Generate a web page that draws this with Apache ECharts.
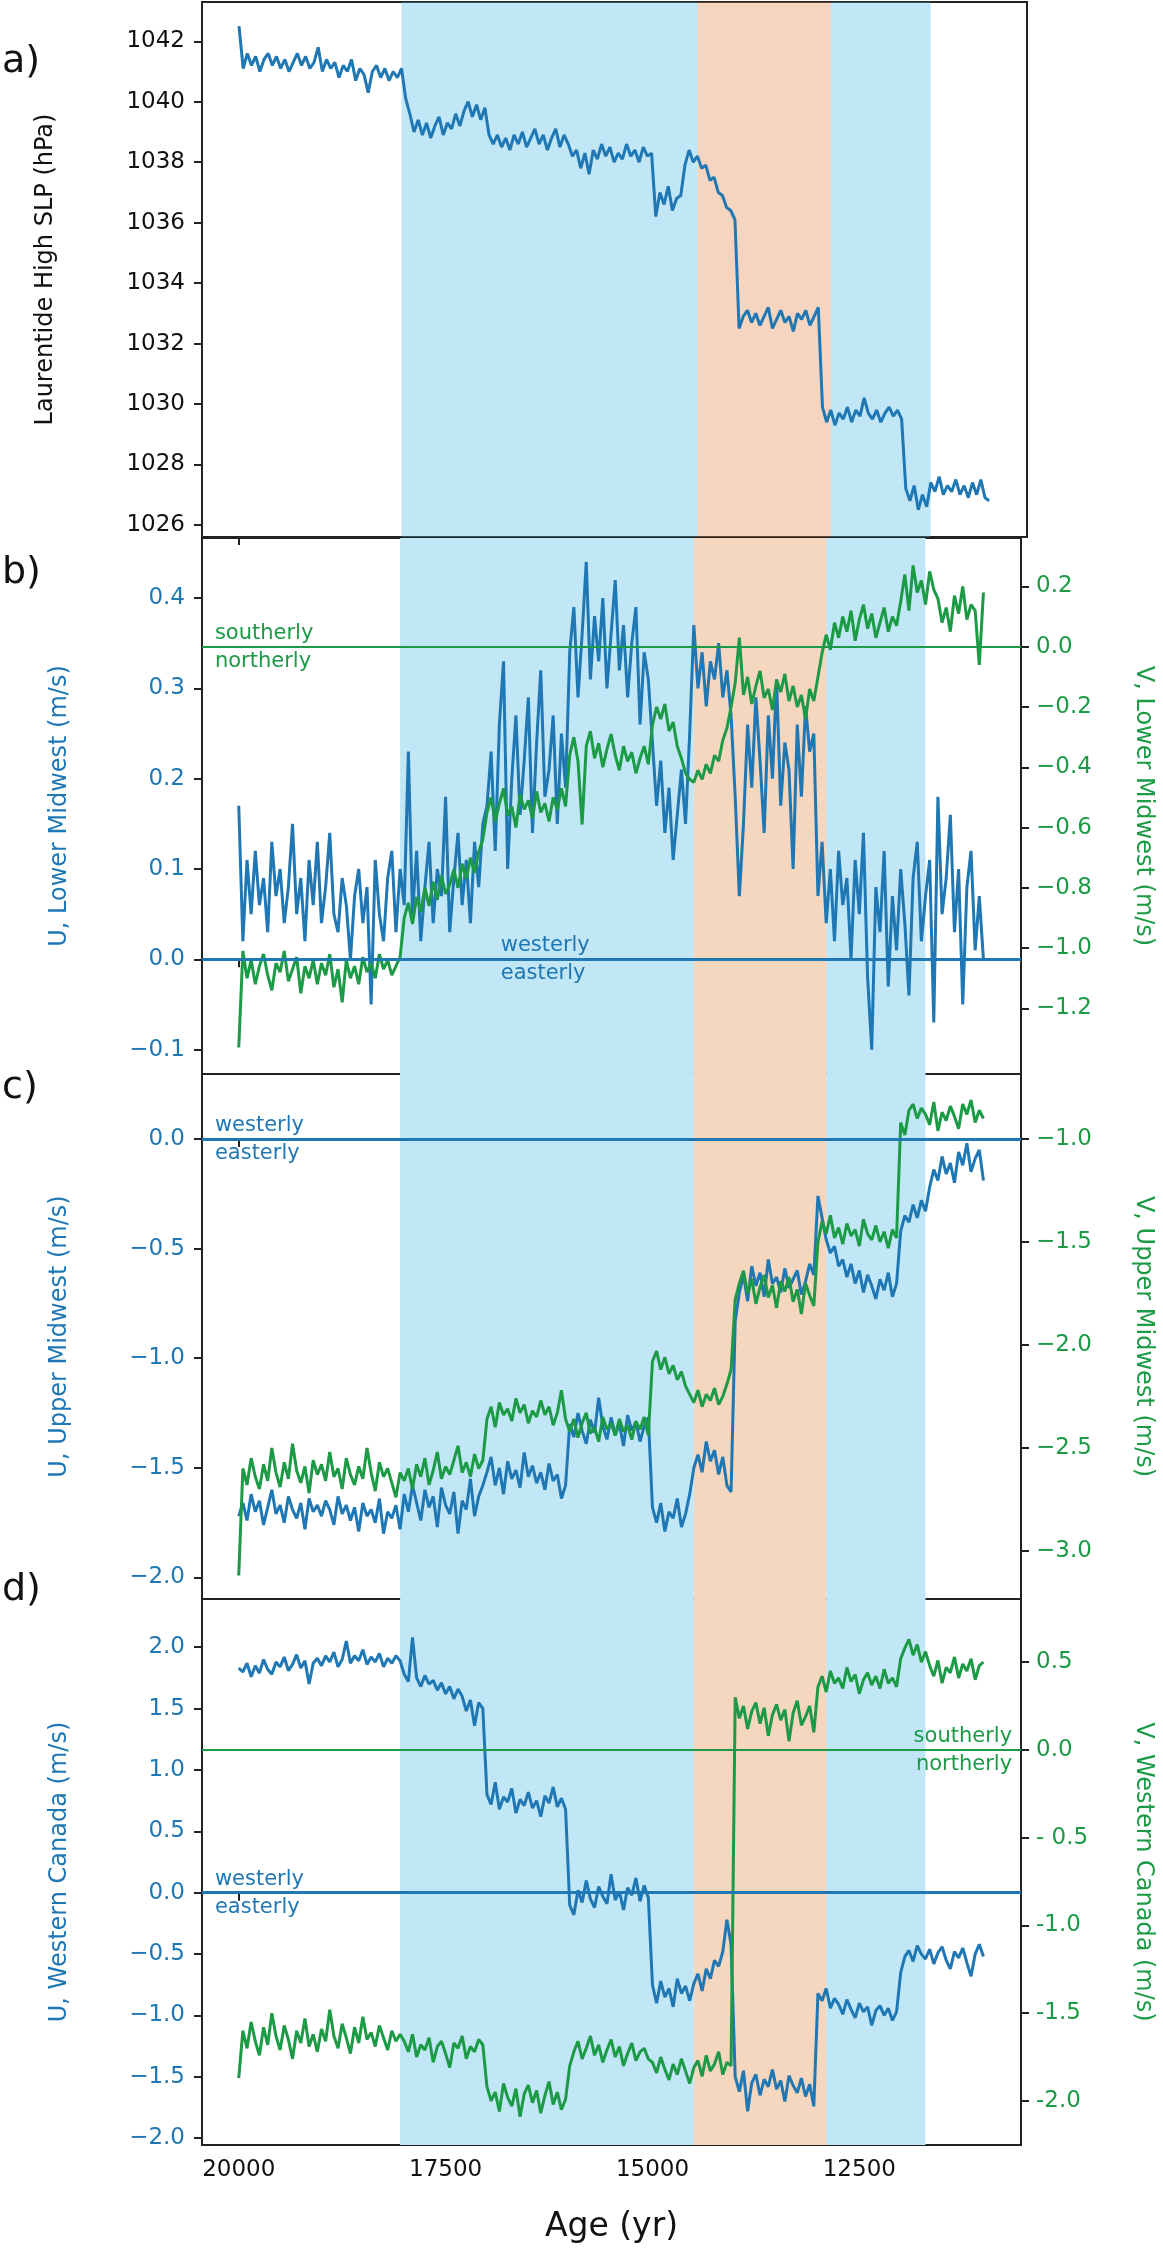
<!DOCTYPE html>
<html>
<head>
<meta charset="utf-8">
<script src="https://cdn.jsdelivr.net/npm/echarts@6/dist/echarts.min.js"></script>
<style>
html, body { margin: 0; padding: 0; background: #fff; }
#chart { width: 1163px; height: 2250px; }
</style>
</head>
<body>
<div id="chart"></div>
<script>
// ages run from 20000 yr down to 11000 yr, one value every 50 yr
var AGE_START = 20000;
var AGE_STEP = 50;

// a) Laurentide High SLP (hPa)
var slpLaurentide = [
	1042.5, 1041.1, 1041.6, 1041.2, 1041.5, 1041.0, 1041.4, 1041.6, 1041.2, 1041.5, 1041.1, 1041.4, 1041.0, 1041.3, 1041.6, 1041.2, 1041.5, 1041.1, 1041.3, 1041.8,
	1041.0, 1041.4, 1041.1, 1041.3, 1040.8, 1041.2, 1041.0, 1041.4, 1040.7, 1041.1, 1040.9, 1040.3, 1041.0, 1041.2, 1040.8, 1041.1, 1040.7, 1041.0, 1040.8, 1041.1,
	1040.1, 1039.6, 1039.0, 1039.4, 1038.9, 1039.3, 1038.8, 1039.2, 1039.5, 1038.9, 1039.3, 1039.1, 1039.6, 1039.2, 1039.7, 1040.0, 1039.5, 1039.9, 1039.4, 1039.8,
	1038.9, 1038.6, 1038.9, 1038.5, 1038.8, 1038.4, 1038.9, 1038.6, 1039.0, 1038.5, 1038.8, 1039.1, 1038.6, 1038.9, 1038.4, 1038.8, 1039.1, 1038.5, 1038.9, 1038.6,
	1038.2, 1038.4, 1037.8, 1038.3, 1037.6, 1038.4, 1038.1, 1038.6, 1038.2, 1038.5, 1038.0, 1038.3, 1038.1, 1038.6, 1038.2, 1038.4, 1038.0, 1038.5, 1038.2, 1038.3,
	1036.2, 1037.0, 1036.6, 1037.2, 1036.4, 1036.8, 1036.9, 1037.9, 1038.4, 1038.0, 1038.2, 1037.8, 1037.9, 1037.4, 1037.5, 1037.0, 1036.9, 1036.5, 1036.4, 1036.1,
	1032.5, 1032.9, 1033.1, 1032.7, 1033.0, 1032.6, 1032.9, 1033.2, 1032.5, 1032.8, 1033.1, 1032.7, 1032.9, 1032.4, 1033.0, 1032.8, 1033.1, 1032.6, 1032.9, 1033.2,
	1029.9, 1029.4, 1029.8, 1029.3, 1029.7, 1029.5, 1029.9, 1029.4, 1029.8, 1029.6, 1030.2, 1029.7, 1029.5, 1029.8, 1029.4, 1029.7, 1029.9, 1029.6, 1029.8, 1029.5,
	1027.2, 1026.8, 1027.3, 1026.5, 1027.0, 1026.6, 1027.4, 1027.1, 1027.6, 1027.0, 1027.3, 1027.1, 1027.5, 1027.0, 1027.3, 1026.9, 1027.4, 1027.0, 1027.5, 1026.9, 1026.8
];

// b) Lower Midwest winds (m/s)
var uLowerMidwest = [
	0.17, 0.02, 0.11, 0.05, 0.12, 0.06, 0.09, 0.03, 0.13, 0.07, 0.10, 0.04, 0.08, 0.15, 0.05, 0.09, 0.02, 0.11, 0.06, 0.13,
	0.04, 0.08, 0.14, 0.05, 0.03, 0.09, 0.06, 0.00, 0.07, 0.10, 0.04, 0.08, -0.05, 0.11, 0.05, 0.02, 0.09, 0.12, 0.03, 0.10,
	0.06, 0.23, 0.05, 0.12, 0.02, 0.08, 0.13, 0.04, 0.10, 0.07, 0.18, 0.03, 0.09, 0.14, 0.06, 0.11, 0.04, 0.13, 0.08, 0.15,
	0.17, 0.23, 0.12, 0.26, 0.33, 0.10, 0.20, 0.27, 0.16, 0.22, 0.29, 0.14, 0.24, 0.32, 0.18, 0.21, 0.27, 0.15, 0.25, 0.19,
	0.34, 0.39, 0.29, 0.36, 0.44, 0.31, 0.38, 0.33, 0.40, 0.30, 0.36, 0.42, 0.32, 0.37, 0.29, 0.35, 0.39, 0.26, 0.34, 0.31,
	0.24, 0.17, 0.22, 0.14, 0.19, 0.11, 0.16, 0.21, 0.15, 0.25, 0.37, 0.30, 0.34, 0.28, 0.33, 0.31, 0.35, 0.29, 0.32, 0.27,
	0.18, 0.07, 0.15, 0.26, 0.19, 0.29, 0.22, 0.14, 0.27, 0.20, 0.31, 0.17, 0.24, 0.21, 0.10, 0.26, 0.18, 0.28, 0.23, 0.25,
	0.07, 0.13, 0.04, 0.10, 0.02, 0.12, 0.06, 0.09, 0.00, 0.11, 0.05, 0.14, -0.02, -0.10, 0.08, 0.03, 0.12, -0.03, 0.07, 0.01,
	0.10, 0.04, -0.04, 0.09, 0.13, 0.02, 0.07, 0.11, -0.07, 0.18, 0.05, 0.09, 0.16, 0.03, 0.10, -0.05, 0.08, 0.12, 0.01, 0.07, 0.00
];
var vLowerMidwest = [
	-1.33, -1.01, -1.10, -1.04, -1.12, -1.06, -1.02, -1.09, -1.14, -1.05, -1.08, -1.01, -1.11, -1.07, -1.03, -1.15, -1.06, -1.10, -1.04, -1.12,
	-1.05, -1.09, -1.02, -1.13, -1.07, -1.18, -1.04, -1.10, -1.06, -1.12, -1.03, -1.08, -1.05, -1.10, -1.02, -1.07, -1.04, -1.09, -1.06, -1.03,
	-0.90, -0.85, -0.92, -0.83, -0.88, -0.80, -0.86, -0.78, -0.84, -0.76, -0.82, -0.79, -0.74, -0.80, -0.72, -0.77, -0.70, -0.75, -0.68, -0.64,
	-0.55, -0.50, -0.58, -0.52, -0.47, -0.56, -0.53, -0.60, -0.49, -0.54, -0.51, -0.57, -0.48, -0.55, -0.52, -0.58, -0.50, -0.54, -0.47, -0.53,
	-0.36, -0.30, -0.38, -0.59, -0.33, -0.28, -0.37, -0.32, -0.40, -0.34, -0.29, -0.36, -0.41, -0.33, -0.38, -0.35, -0.42, -0.37, -0.33, -0.39,
	-0.26, -0.20, -0.24, -0.19, -0.28, -0.25, -0.33, -0.37, -0.42, -0.44, -0.45, -0.41, -0.44, -0.39, -0.42, -0.36, -0.38, -0.31, -0.27, -0.20,
	-0.12, 0.03, -0.16, -0.10, -0.19, -0.13, -0.08, -0.17, -0.14, -0.21, -0.11, -0.15, -0.09, -0.18, -0.13, -0.20, -0.16, -0.24, -0.14, -0.18,
	-0.10, -0.02, 0.04, -0.01, 0.08, 0.03, 0.10, 0.05, 0.12, 0.02, 0.09, 0.14, 0.06, 0.11, 0.03, 0.08, 0.13, 0.05, 0.10, 0.07,
	0.15, 0.24, 0.12, 0.27, 0.18, 0.22, 0.14, 0.25, 0.19, 0.16, 0.08, 0.13, 0.05, 0.17, 0.11, 0.20, 0.09, 0.14, 0.12, -0.06, 0.18
];

// c) Upper Midwest winds (m/s)
var uUpperMidwest = [
	-1.72, -1.66, -1.74, -1.62, -1.70, -1.65, -1.76, -1.68, -1.60, -1.71, -1.67, -1.75, -1.63, -1.69, -1.73, -1.66, -1.78, -1.64, -1.70, -1.67,
	-1.72, -1.65, -1.69, -1.76, -1.63, -1.71, -1.67, -1.74, -1.68, -1.79, -1.66, -1.72, -1.69, -1.75, -1.64, -1.80, -1.70, -1.73, -1.67, -1.78,
	-1.62, -1.70, -1.58, -1.66, -1.74, -1.60, -1.68, -1.63, -1.77, -1.59, -1.67, -1.71, -1.61, -1.80, -1.65, -1.69, -1.55, -1.72, -1.63, -1.58,
	-1.52, -1.45, -1.58, -1.50, -1.62, -1.47, -1.55, -1.51, -1.59, -1.43, -1.54, -1.49, -1.57, -1.52, -1.60, -1.48, -1.56, -1.53, -1.64, -1.58,
	-1.30, -1.36, -1.25, -1.33, -1.39, -1.28, -1.34, -1.18, -1.31, -1.37, -1.27, -1.35, -1.30, -1.40, -1.26, -1.33, -1.29, -1.38, -1.31, -1.27,
	-1.68, -1.75, -1.66, -1.79, -1.70, -1.73, -1.64, -1.77, -1.71, -1.62, -1.50, -1.44, -1.52, -1.38, -1.47, -1.42, -1.53, -1.45, -1.58, -1.61,
	-0.83, -0.70, -0.62, -0.74, -0.58, -0.67, -0.61, -0.72, -0.55, -0.66, -0.63, -0.70, -0.59, -0.68, -0.64, -0.60, -0.71, -0.65, -0.57, -0.62,
	-0.26, -0.36, -0.46, -0.52, -0.49, -0.58, -0.55, -0.63, -0.57, -0.66, -0.60, -0.70, -0.62, -0.67, -0.73, -0.64, -0.69, -0.61, -0.72, -0.66,
	-0.42, -0.35, -0.38, -0.30, -0.36, -0.28, -0.33, -0.22, -0.14, -0.19, -0.08, -0.16, -0.11, -0.20, -0.06, -0.12, -0.02, -0.15, -0.09, -0.05, -0.19
];
var vUpperMidwest = [
	-3.12, -2.60, -2.68, -2.55, -2.64, -2.70, -2.58, -2.66, -2.50, -2.62, -2.69, -2.57, -2.65, -2.48, -2.61, -2.67, -2.59, -2.72, -2.56, -2.63,
	-2.58, -2.66, -2.52, -2.64, -2.60, -2.70, -2.55, -2.63, -2.68, -2.59, -2.65, -2.50, -2.62, -2.71, -2.57, -2.64, -2.60, -2.67, -2.74, -2.62,
	-2.66, -2.60, -2.70, -2.58, -2.64, -2.55, -2.68, -2.61, -2.52, -2.65, -2.59, -2.63, -2.56, -2.49, -2.62, -2.57, -2.64, -2.53, -2.60, -2.56,
	-2.36, -2.30, -2.40, -2.28, -2.34, -2.31, -2.37, -2.26, -2.33, -2.29, -2.38, -2.32, -2.35, -2.27, -2.34, -2.30, -2.39, -2.33, -2.22, -2.36,
	-2.42, -2.36, -2.45, -2.38, -2.33, -2.43, -2.40, -2.47, -2.35, -2.41, -2.38, -2.44, -2.36, -2.42, -2.39, -2.46, -2.37, -2.41, -2.35, -2.44,
	-2.08, -2.03, -2.12, -2.06, -2.14, -2.10, -2.17, -2.13, -2.20, -2.24, -2.28, -2.22, -2.30, -2.24, -2.27, -2.21, -2.29, -2.25, -2.19, -2.12,
	-1.78, -1.70, -1.64, -1.75, -1.68, -1.80, -1.72, -1.66, -1.77, -1.71, -1.82, -1.69, -1.74, -1.67, -1.79, -1.73, -1.85, -1.70, -1.76, -1.81,
	-1.50, -1.40, -1.46, -1.37, -1.48, -1.43, -1.51, -1.41, -1.47, -1.44, -1.52, -1.39, -1.46, -1.49, -1.42, -1.50, -1.45, -1.53, -1.44, -1.48,
	-0.92, -0.98, -0.86, -0.83, -0.90, -0.85, -0.88, -0.93, -0.82, -0.96, -0.87, -0.91, -0.84, -0.89, -0.95, -0.83, -0.88, -0.81, -0.92, -0.86, -0.90
];

// d) Western Canada winds (m/s)
var uWesternCanada = [
	1.83, 1.80, 1.87, 1.76, 1.85, 1.79, 1.90, 1.82, 1.78, 1.88, 1.84, 1.92, 1.81, 1.86, 1.94, 1.83, 1.89, 1.70, 1.87, 1.91,
	1.85, 1.93, 1.88, 1.96, 1.84, 1.90, 2.05, 1.87, 1.93, 1.89, 1.98, 1.86, 1.92, 1.88, 1.95, 1.84, 1.91, 1.87, 1.93, 1.89,
	1.78, 1.72, 2.08, 1.75, 1.68, 1.77, 1.70, 1.73, 1.65, 1.71, 1.62, 1.68, 1.58, 1.66, 1.60, 1.48, 1.57, 1.36, 1.55, 1.50,
	0.80, 0.72, 0.90, 0.68, 0.78, 0.74, 0.85, 0.65, 0.76, 0.71, 0.82, 0.69, 0.75, 0.62, 0.79, 0.73, 0.86, 0.70, 0.77, 0.68,
	-0.10, -0.18, 0.02, -0.08, 0.10, -0.05, -0.12, 0.05, -0.03, -0.09, 0.15, -0.06, 0.01, -0.14, 0.04, -0.02, 0.12, -0.07, 0.06, -0.04,
	-0.75, -0.90, -0.72, -0.85, -0.78, -0.93, -0.70, -0.82, -0.76, -0.88, -0.74, -0.66, -0.80, -0.62, -0.70, -0.55, -0.60, -0.48, -0.22, -0.42,
	-1.50, -1.62, -1.45, -1.78, -1.55, -1.48, -1.65, -1.52, -1.58, -1.44, -1.60, -1.53, -1.70, -1.49, -1.57, -1.63, -1.51, -1.66, -1.56, -1.74,
	-0.82, -0.88, -0.78, -0.94, -0.86, -0.91, -0.99, -0.87, -0.95, -1.02, -0.90, -0.97, -0.93, -1.08, -0.96, -0.92, -1.00, -0.94, -1.04, -0.97,
	-0.65, -0.52, -0.47, -0.56, -0.43, -0.50, -0.54, -0.46, -0.58, -0.49, -0.44, -0.55, -0.62, -0.48, -0.53, -0.45, -0.57, -0.68, -0.50, -0.42, -0.52
];
var vWesternCanada = [
	-1.87, -1.60, -1.70, -1.55, -1.66, -1.74, -1.58, -1.68, -1.50, -1.63, -1.71, -1.57, -1.65, -1.76, -1.60, -1.67, -1.53, -1.69, -1.62, -1.72,
	-1.59, -1.66, -1.48, -1.63, -1.70, -1.56, -1.64, -1.73, -1.58, -1.67, -1.52, -1.65, -1.61, -1.69, -1.57, -1.64, -1.71, -1.60, -1.66, -1.62,
	-1.66, -1.72, -1.62, -1.75, -1.68, -1.71, -1.64, -1.78, -1.69, -1.66, -1.73, -1.81, -1.67, -1.70, -1.63, -1.76, -1.69, -1.72, -1.65, -1.68,
	-1.92, -2.00, -1.95, -2.06, -1.90, -1.98, -2.03, -1.93, -2.09, -1.96, -1.91, -2.01, -1.94, -2.07, -1.97, -1.89, -2.02, -1.95, -2.05, -1.99,
	-1.80, -1.72, -1.66, -1.76, -1.70, -1.63, -1.74, -1.68, -1.78, -1.71, -1.65, -1.75, -1.69, -1.80, -1.73, -1.67, -1.77, -1.72, -1.70, -1.76,
	-1.78, -1.84, -1.75, -1.82, -1.88, -1.79, -1.85, -1.76, -1.83, -1.90, -1.81, -1.77, -1.86, -1.74, -1.83, -1.79, -1.72, -1.85, -1.78, -1.80,
	0.30, 0.18, 0.25, 0.12, 0.22, 0.27, 0.15, 0.24, 0.08, 0.20, 0.26, 0.17, 0.23, 0.05, 0.21, 0.28, 0.14, 0.19, 0.25, 0.10,
	0.36, 0.42, 0.33, 0.45, 0.38, 0.41, 0.35, 0.47, 0.39, 0.43, 0.32, 0.40, 0.44, 0.37, 0.42, 0.35, 0.46, 0.38, 0.41, 0.36,
	0.52, 0.58, 0.63, 0.54, 0.60, 0.50, 0.56, 0.48, 0.42, 0.51, 0.38, 0.47, 0.44, 0.53, 0.41, 0.49, 0.45, 0.52, 0.40, 0.48, 0.50
];

// shaded intervals (yr)
var coldSpans = [[18050, 14500], [12900, 11700]];
var warmSpans = [[14500, 12900]];

// tick values
var ageTicks = [20000, 17500, 15000, 12500];
var slpTicks = [1026, 1028, 1030, 1032, 1034, 1036, 1038, 1040, 1042];
var uLowerTicks = [-0.1, 0, 0.1, 0.2, 0.3, 0.4];
var vLowerTicks = [-1.2, -1.0, -0.8, -0.6, -0.4, -0.2, 0, 0.2];
var uUpperTicks = [-2.0, -1.5, -1.0, -0.5, 0];
var vUpperTicks = [-3.0, -2.5, -2.0, -1.5, -1.0];
var uCanadaTicks = [-2.0, -1.5, -1.0, -0.5, 0, 0.5, 1.0, 1.5, 2.0];
var vCanadaTicks = [-2.0, -1.5, -1.0, -0.5, 0, 0.5];

var BLUE = "#1f77b4";
var GREEN = "#1c9a46";
var INK = "#222";
var FONT = "DejaVu Sans";
var COLD_BG = "#c1e7f6";
var WARM_BG = "#f5d6bf";

var GRID_LEFT = 202, GRID_WIDTH = 825;
var panels = [
	{ top: 2, height: 535 },
	{ top: 538, height: 536 },
	{ top: 1074, height: 525 },
	{ top: 1599, height: 546 }
];

function pairs(values) {
	return values.map(function (v, i) { return [AGE_START - i * AGE_STEP, v]; });
}

function minusFmt(digits) {
	return function (v) {
		var s = Math.abs(v).toFixed(digits);
		return (v < -1e-9 ? "\u2212" : "") + s;
	};
}

function hyphenFmt(v) {
	if (v < -1e-9) {
		return (Math.abs(v) < 1 ? "- " : "-") + Math.abs(v).toFixed(1);
	}
	return v.toFixed(1);
}

function makeXAxis(idx) {
	var last = idx == panels.length - 1;
	return {
		type: "value", gridIndex: idx, inverse: true, min: 10546, max: 20444,
		axisLine: { show: true, lineStyle: { color: INK, width: 2 } },
		axisTick: { show: true, length: 8, customValues: ageTicks, lineStyle: { color: INK, width: 2 } },
		axisLabel: {
			show: last, customValues: ageTicks, margin: 14, color: "#111", fontSize: 23, fontFamily: FONT,
			formatter: function (v) { return String(Math.round(v)); }
		},
		splitLine: { show: false },
		name: last ? "Age (yr)" : "",
		nameLocation: "middle", nameGap: 66,
		nameTextStyle: { color: "#111", fontSize: 33, fontFamily: FONT }
	};
}

function makeYAxis(o) {
	var right = o.position == "right";
	return {
		type: "value", gridIndex: o.grid, position: o.position, min: o.min, max: o.max,
		axisLine: { show: true, lineStyle: { color: INK, width: 2 } },
		axisTick: { show: true, length: 8, customValues: o.ticks, lineStyle: { color: INK, width: 2 } },
		axisLabel: { customValues: o.ticks, formatter: o.fmt, margin: right ? 15 : 17, color: o.color, fontSize: 23, fontFamily: FONT },
		splitLine: { show: false },
		name: o.name, nameLocation: "middle", nameRotate: right ? -90 : 90, nameGap: o.gap,
		nameTextStyle: { color: o.nameColor || o.color, fontSize: 24, fontFamily: FONT }
	};
}

function shadeSeries(grid, yIdx, over) {
	var cold = over ? "rgb(78,186,229)" : COLD_BG;
	var warm = over ? "rgb(226,135,72)" : WARM_BG;
	var areas = [];
	coldSpans.forEach(function (s) { areas.push([{ xAxis: s[0], itemStyle: { color: cold } }, { xAxis: s[1] }]); });
	warmSpans.forEach(function (s) { areas.push([{ xAxis: s[0], itemStyle: { color: warm } }, { xAxis: s[1] }]); });
	return {
		type: "line", xAxisIndex: grid, yAxisIndex: yIdx, data: [], z: over ? 6 : 1, silent: true,
		markArea: { silent: true, itemStyle: { opacity: over ? 0.35 : 1 }, data: areas }
	};
}

function lineSeries(grid, yIdx, values, color) {
	return {
		type: "line", xAxisIndex: grid, yAxisIndex: yIdx, data: pairs(values), z: 3,
		showSymbol: false, symbol: "none", silent: true,
		lineStyle: { color: color, width: 3 }
	};
}

function zeroLine(grid, yIdx, color, width) {
	return {
		type: "line", xAxisIndex: grid, yAxisIndex: yIdx, data: [], z: 4, silent: true,
		markLine: {
			silent: true, symbol: ["none", "none"], label: { show: false },
			lineStyle: { color: color, width: width, type: "solid" },
			data: [{ yAxis: 0 }]
		}
	};
}

var chart = echarts.init(document.getElementById("chart"), null, { renderer: "canvas" });

var option = {
	animation: false,
	backgroundColor: "#fff",
	grid: panels.map(function (p) {
		return { left: GRID_LEFT, width: GRID_WIDTH, top: p.top, height: p.height, show: true, borderColor: INK, borderWidth: 2, backgroundColor: "transparent" };
	}),
	xAxis: panels.map(function (p, i) { return makeXAxis(i); }),
	yAxis: [
		makeYAxis({ grid: 0, position: "left", min: 1025.6, max: 1043.3, ticks: slpTicks, fmt: function (v) { return v.toFixed(0); }, color: "#111", name: "Laurentide High SLP (hPa)", gap: 144 }),
		makeYAxis({ grid: 1, position: "left", min: -0.127, max: 0.4665, ticks: uLowerTicks, fmt: minusFmt(1), color: BLUE, name: "U, Lower Midwest (m/s)", gap: 130 }),
		makeYAxis({ grid: 1, position: "right", min: -1.418, max: 0.361, ticks: vLowerTicks, fmt: minusFmt(1), color: GREEN, name: "V, Lower Midwest (m/s)", gap: 110 }),
		makeYAxis({ grid: 2, position: "left", min: -2.098, max: 0.296, ticks: uUpperTicks, fmt: minusFmt(1), color: BLUE, name: "U, Upper Midwest (m/s)", gap: 130 }),
		makeYAxis({ grid: 2, position: "right", min: -3.234, max: -0.684, ticks: vUpperTicks, fmt: minusFmt(1), color: GREEN, name: "V, Upper Midwest (m/s)", gap: 110 }),
		makeYAxis({ grid: 3, position: "left", min: -2.055, max: 2.393, ticks: uCanadaTicks, fmt: minusFmt(1), color: BLUE, name: "U, Western Canada (m/s)", gap: 130 }),
		makeYAxis({ grid: 3, position: "right", min: -2.251, max: 0.86, ticks: vCanadaTicks, fmt: hyphenFmt, color: GREEN, name: "V, Western Canada (m/s)", gap: 110 })
	],
	series: [
		lineSeries(0, 0, slpLaurentide, BLUE),
		shadeSeries(0, 0, true),

		shadeSeries(1, 1, false),
		lineSeries(1, 1, uLowerMidwest, BLUE),
		lineSeries(1, 2, vLowerMidwest, GREEN),
		zeroLine(1, 2, GREEN, 2),
		zeroLine(1, 1, BLUE, 3),

		shadeSeries(2, 3, false),
		lineSeries(2, 3, uUpperMidwest, BLUE),
		lineSeries(2, 4, vUpperMidwest, GREEN),
		zeroLine(2, 3, BLUE, 3),

		shadeSeries(3, 5, false),
		lineSeries(3, 5, uWesternCanada, BLUE),
		lineSeries(3, 6, vWesternCanada, GREEN),
		zeroLine(3, 6, GREEN, 2),
		zeroLine(3, 5, BLUE, 3)
	]
};
chart.setOption(option);

// wind direction notes sit just above / below the zero lines
var notes = [
	{ x: 1, y: 2, age: 20288, up: "southerly", down: "northerly", color: GREEN, align: "left" },
	{ x: 1, y: 1, age: 16834, up: "westerly", down: "easterly", color: BLUE, align: "left" },
	{ x: 2, y: 3, age: 20288, up: "westerly", down: "easterly", color: BLUE, align: "left" },
	{ x: 3, y: 5, age: 20288, up: "westerly", down: "easterly", color: BLUE, align: "left" },
	{ x: 3, y: 6, age: 10654, up: "southerly", down: "northerly", color: GREEN, align: "right" }
];
var graphics = [];
notes.forEach(function (n) {
	var p = chart.convertToPixel({ xAxisIndex: n.x, yAxisIndex: n.y }, [n.age, 0]);
	graphics.push({ type: "text", x: p[0], y: p[1] - 3, z: 10, style: { text: n.up, fill: n.color, font: "21px '" + FONT + "'", align: n.align, verticalAlign: "bottom" } });
	graphics.push({ type: "text", x: p[0], y: p[1] + 4, z: 10, style: { text: n.down, fill: n.color, font: "21px '" + FONT + "'", align: n.align, verticalAlign: "top" } });
});
[["a)", 62], ["b)", 573], ["c)", 1088], ["d)", 1590]].forEach(function (l) {
	graphics.push({ type: "text", x: 2, y: l[1], z: 10, style: { text: l[0], fill: "#111", font: "38px '" + FONT + "'", align: "left", verticalAlign: "middle" } });
});
chart.setOption({ graphic: graphics });
</script>
</body>
</html>
